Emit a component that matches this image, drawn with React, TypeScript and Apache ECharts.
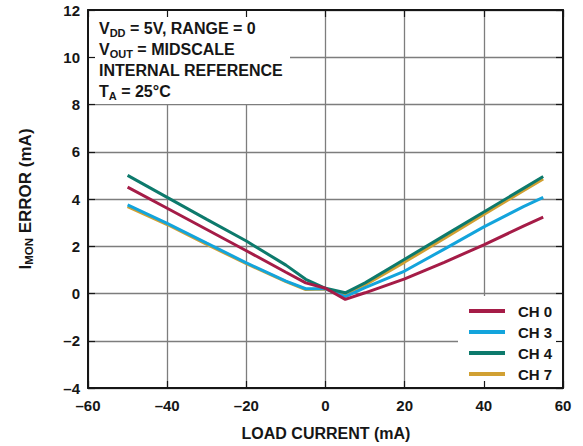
import React, { useEffect, useRef } from "react";
import * as echarts from "echarts";

const loadCurrent = [-50, -40, -30, -20, -10, -5, 0, 5, 10, 20, 30, 40, 50, 55];
const ch0 = [4.5, 3.61, 2.71, 1.81, 0.9, 0.45, 0.22, -0.25, 0.03, 0.62, 1.32, 2.06, 2.85, 3.23];
const ch3 = [3.75, 2.97, 2.13, 1.3, 0.52, 0.2, 0.2, -0.13, 0.25, 0.95, 1.88, 2.82, 3.68, 4.07];
const ch4 = [5.0, 4.07, 3.14, 2.22, 1.2, 0.6, 0.22, 0.03, 0.45, 1.45, 2.45, 3.45, 4.45, 4.95];
const ch7 = [3.68, 2.92, 2.08, 1.26, 0.5, 0.17, 0.19, -0.06, 0.36, 1.33, 2.33, 3.35, 4.35, 4.85];

const seriesNames = ["CH 0", "CH 3", "CH 4", "CH 7"];
const seriesColors = ["#a51c47", "#13a4dc", "#0d7a6c", "#d1a032"];
const xTitle = "LOAD CURRENT (mA)";
const conditionLines = [
  "{m|V}{s|DD}{m| = 5V, RANGE = 0}",
  "{m|V}{s|OUT}{m| = MIDSCALE}",
  "{m|INTERNAL REFERENCE}",
  "{m|T}{s|A}{m| = 25°C}",
];
const yTitle = "{m|I}{s|MON}{m| ERROR (mA)}";

const FONT = "'Liberation Sans', Arial, sans-serif";
const INK = "#161616";

const fmt = (v: number) => (v < 0 ? "\u2013" + Math.abs(v) : String(v));

const richStyles = (size: number, subSize: number) => ({
  m: { fontSize: size, fontWeight: "bold", fontFamily: FONT, fill: INK, lineHeight: 20 },
  s: { fontSize: subSize, fontWeight: "bold", fontFamily: FONT, fill: INK, lineHeight: subSize, verticalAlign: "bottom" },
});

export default function App() {
  const ref = useRef<HTMLDivElement>(null);
  useEffect(() => {
    if (!ref.current) return;
    const chart = echarts.init(ref.current, null, { renderer: "svg" });
    const pair = (ys: number[]) => loadCurrent.map((x, i) => [x, ys[i]]);
    const dataBy: Record<string, number[]> = { "CH 0": ch0, "CH 3": ch3, "CH 4": ch4, "CH 7": ch7 };
    const order = ["CH 7", "CH 3", "CH 4", "CH 0"];

    const frameX = (position: "top" | "bottom", labels: boolean) => ({
      type: "value",
      position,
      min: -60,
      max: 60,
      interval: 20,
      z: 10,
      axisLine: { show: true, onZero: false, lineStyle: { color: INK, width: 2 } },
      axisTick: { show: true, inside: true, length: 7, lineStyle: { color: INK, width: 1.2 } },
      axisLabel: labels
        ? { show: true, formatter: fmt, fontSize: 15, fontWeight: "bold", fontFamily: FONT, color: INK, margin: 10 }
        : { show: false },
      splitLine: { show: false },
    });
    const frameY = (position: "left" | "right", labels: boolean) => ({
      type: "value",
      position,
      min: -4,
      max: 12,
      interval: 2,
      z: 10,
      axisLine: { show: true, onZero: false, lineStyle: { color: INK, width: 2 } },
      axisTick: { show: true, inside: true, length: 7, lineStyle: { color: INK, width: 1.2 } },
      axisLabel: labels
        ? { show: true, formatter: fmt, fontSize: 15, fontWeight: "bold", fontFamily: FONT, color: INK, margin: 8 }
        : { show: false },
      splitLine: { show: false },
    });

    chart.setOption({
      animation: false,
      backgroundColor: "#ffffff",
      grid: { left: 88, right: 20, top: 10, bottom: 58, containLabel: false, outerBoundsMode: "none" },
      xAxis: [
        {
          type: "value",
          min: -60,
          max: 60,
          interval: 20,
          z: 0,
          axisLine: { show: false },
          axisTick: { show: false },
          axisLabel: { show: false },
          splitLine: { show: true, lineStyle: { color: "#7d7d7d", width: 1.3 } },
        },
        frameX("bottom", true),
        frameX("top", false),
      ],
      yAxis: [
        {
          type: "value",
          min: -4,
          max: 12,
          interval: 2,
          z: 0,
          axisLine: { show: false },
          axisTick: { show: false },
          axisLabel: { show: false },
          splitLine: { show: true, lineStyle: { color: "#7d7d7d", width: 1.3 } },
        },
        frameY("left", true),
        frameY("right", false),
      ],
      legend: {
        data: seriesNames,
        orient: "vertical",
        left: 464,
        top: 297,
        icon: "rect",
        itemWidth: 36,
        itemHeight: 4,
        itemGap: 3,
        selectedMode: false,
        textStyle: { fontSize: 15, fontWeight: "bold", fontFamily: FONT, color: INK, lineHeight: 18, padding: [0, 0, 0, 8] },
      },
      series: order.map((name) => ({
        name,
        type: "line",
        xAxisIndex: 0,
        yAxisIndex: 0,
        showSymbol: false,
        symbol: "none",
        z: 3,
        color: seriesColors[seriesNames.indexOf(name)],
        lineStyle: { width: 3, color: seriesColors[seriesNames.indexOf(name)] },
        data: pair(dataBy[name]),
      })),
      graphic: [
        { type: "rect", z: 1, shape: { x: 89, y: 11, width: 201, height: 93 }, style: { fill: "#ffffff" } },
        { type: "rect", z: 1, shape: { x: 458, y: 296, width: 104, height: 91 }, style: { fill: "#ffffff" } },
        ...conditionLines.map((t, i) => ({
          type: "text",
          z: 5,
          x: 99,
          y: 28 + i * 21,
          style: {
            text: t,
            rich: richStyles(16, 11),
            align: "left",
            textAlign: "left",
            verticalAlign: "middle",
            textVerticalAlign: "middle",
          },
        })),
        {
          type: "text",
          z: 5,
          x: 326,
          y: 433,
          style: {
            text: xTitle,
            font: `bold 16px ${FONT}`,
            fontSize: 16,
            fontWeight: "bold",
            fontFamily: FONT,
            fill: INK,
            align: "center",
            textAlign: "center",
            verticalAlign: "middle",
            textVerticalAlign: "middle",
          },
        },
        {
          type: "group",
          x: 25,
          y: 199,
          rotation: Math.PI / 2,
          z: 5,
          children: [
            {
              type: "text",
              x: 0,
              y: 0,
              style: {
                text: yTitle,
                rich: richStyles(17, 11.5),
                align: "center",
                textAlign: "center",
                verticalAlign: "middle",
                textVerticalAlign: "middle",
              },
            },
          ],
        },
      ],
    });
    return () => chart.dispose();
  }, []);
  return <div ref={ref} style={{ position: "absolute", left: 0, top: 0, width: 583, height: 446 }} />;
}
